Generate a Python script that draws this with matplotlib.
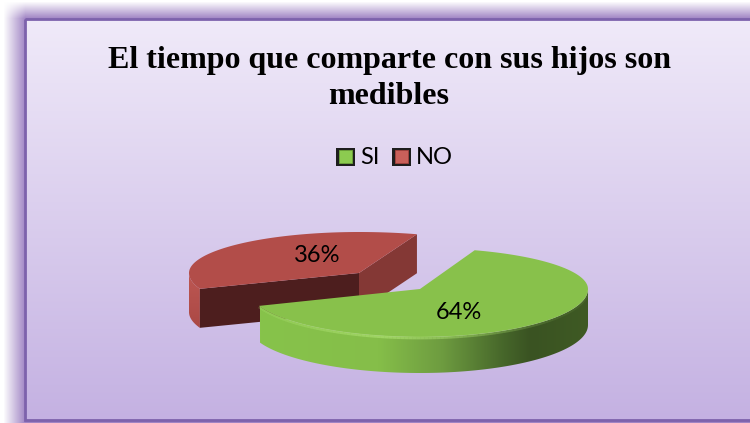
import numpy as np
import matplotlib.pyplot as plt
from matplotlib.colors import LinearSegmentedColormap, to_rgb
from matplotlib.patches import Polygon, Rectangle

title = "El tiempo que comparte con sus hijos son\nmedibles"
labels = ["SI", "NO"]
values = [64, 36]
pct_labels = ["64%", "36%"]

W, H = 750, 423
START = 71.0  # grados, limite entre las dos porciones


def arc(cx, cy, t0, t1, rx_right=168, rx_left=172, ry_back=41, ry_front=48, n=120):
    # elipse aplastada atras para imitar la perspectiva
    t = np.radians(np.linspace(t0, t1, n))
    rx = np.where(np.cos(t) > 0, rx_right, rx_left)
    ry = np.where(np.sin(t) > 0, ry_back, ry_front)
    return np.column_stack([cx + rx * np.cos(t), cy - ry * np.sin(t)])


def gradient(ax, colors, extent, vertical=False, clip=None, zorder=1):
    cmap = LinearSegmentedColormap.from_list("g", colors)
    g = np.linspace(0, 1, 256)
    g = g[:, None] if vertical else g[None, :]
    im = ax.imshow(g, cmap=cmap, extent=extent, aspect="auto",
                   interpolation="bilinear", zorder=zorder)
    if clip is not None:
        im.set_clip_path(clip)
    return im


fig = plt.figure(figsize=(7.5, 4.23), dpi=100)
ax = fig.add_axes([0, 0, 1, 1])
ax.axis("off")
fig.patch.set_facecolor("white")

# sombra difusa arriba y a la izquierda
xx, yy = np.meshgrid(np.arange(W), np.arange(H))
fade = np.clip((xx - 3) / 22, 0, 1) * np.clip((yy - 1) / 17, 0, 1)
shadow = np.dstack([1 + (c - 1) * fade[..., None] for c in to_rgb("#A084C4")])
shadow = shadow.reshape(H, W, 3)
ax.imshow(shadow, extent=(0, W, H, 0), aspect="auto", zorder=1)

# panel
gradient(ax, ["#F0EAF9", "#C4B1E2"], (25, W, 421, 19), vertical=True, zorder=2)
ax.add_patch(Rectangle((25, 19.5), W, 401, fill=False, ec="#7D62AC", lw=2, zorder=3))

# porcion NO
green_end = START - values[0] / 100 * 360
red_end = START + values[1] / 100 * 360
cx_r, cy_r, depth_r = 359, 273, 39
top_r = arc(cx_r, cy_r, START, red_end, rx_right=178, rx_left=170, ry_front=45)
apex_r = np.array([cx_r, cy_r])
down_r = np.array([0, depth_r])
ax.add_patch(Polygon([apex_r, top_r[0], top_r[0] + down_r, apex_r + down_r],
                     fc="#843835", ec="none", zorder=4))
wall_r = arc(cx_r, cy_r, 180, red_end, rx_right=178, rx_left=170, ry_front=45)
p = Polygon(np.vstack([wall_r, (wall_r + down_r)[::-1]]), fc="none", ec="none", zorder=4)
ax.add_patch(p)
gradient(ax, ["#C05A55", "#A84643"], (186, 215, 335, 265), vertical=True, clip=p, zorder=4)
ax.add_patch(Polygon([apex_r, top_r[-1], top_r[-1] + down_r, apex_r + down_r],
                     fc="#4D1E1E", ec="none", zorder=5))
ax.add_patch(Polygon(np.vstack([apex_r, top_r]), fc="#B24D49", ec="none", zorder=6))

# porcion SI
cx_g, cy_g, depth_g = 420, 289, 36
top_g = arc(cx_g, cy_g, START, green_end)
front_g = arc(cx_g, cy_g, 0, green_end)
wall_g = Polygon(np.vstack([front_g, (front_g + [0, depth_g])[::-1]]),
                 fc="none", ec="none", zorder=7)
ax.add_patch(wall_g)
gradient(ax, [(0, "#87C34B"), (0.36, "#85BE49"), (0.55, "#6E9C40"), (0.74, "#46662A"),
              (0.82, "#3A5322"), (1, "#3F5A24")],
         (260, 590, 380, 285), clip=wall_g, zorder=7)
ax.add_patch(Polygon(np.vstack([[cx_g, cy_g], top_g]), fc="#88C14B", ec="none", zorder=8))

# reflejo del borde delantero, se apaga hacia los extremos
for a, b in zip(front_g[:-1], front_g[1:]):
    x_mid = (a[0] + b[0]) / 2
    glow = np.clip(1 - abs(x_mid - 385) / 200, 0.12, 1)
    ax.plot([a[0], b[0]], [a[1] + 1, b[1] + 1], color="#A9DD6E", lw=2, alpha=0.75 * glow,
            solid_capstyle="butt", zorder=9)

# etiquetas de datos
font = ["Lato", "DejaVu Sans"]
ax.text(459, 312.5, pct_labels[0], ha="center", va="center", fontsize=17, family=font, zorder=10)
ax.text(317, 255.5, pct_labels[1], ha="center", va="center", fontsize=17, family=font, zorder=10)

# leyenda
legend_colors = [("#8CCB50", "#6EA63A"), ("#C9605A", "#A5423E")]
legend_x = [336, 392]
for lab, (c, edge), x in zip(labels, legend_colors, legend_x):
    ax.add_patch(Rectangle((x, 148), 18.5, 18, fc="#1E1E1E", ec="none", zorder=10))
    ax.add_patch(Rectangle((x + 2.5, 150), 13.5, 13.5, fc=c, ec=edge, lw=0.6, zorder=11))
    ax.text(x + 24, 157, lab, ha="left", va="center", fontsize=17, family=font, zorder=10)

ax.text(389, 78.5, title, ha="center", va="center", fontsize=23, fontweight="bold",
        family="Liberation Serif", linespacing=1.36, color="black", zorder=10)

ax.set_xlim(0, W)
ax.set_ylim(H, 0)
fig.savefig("out.png", dpi=100)
plt.close(fig)
